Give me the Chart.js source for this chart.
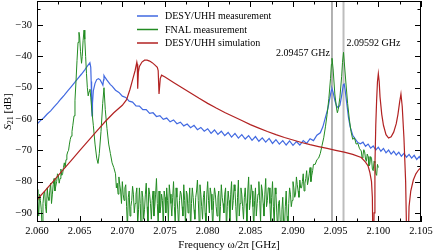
<!DOCTYPE html>
<html>
<head>
<meta charset="utf-8">
<script src="https://cdn.jsdelivr.net/npm/chart.js@4"></script>
<style>
  body { margin: 0; background: #fff; }
</style>
</head>
<body>
<canvas id="graficoS21" width="433" height="251"></canvas>
<script>
// tick positions
const xTicks = [2.060, 2.065, 2.070, 2.075, 2.080, 2.085, 2.090, 2.095, 2.100, 2.105];
const yTicks = [-90, -80, -70, -60, -50, -40, -30];
const markerFreqs = [2.09457, 2.09592];

// DESY/UHH measurement [freq GHz, S21 dB]
const desyMeas = [
  [2.0600,-61.6],[2.0604,-60.5],[2.0608,-59.6],[2.0612,-58.4],[2.0616,-57.4],[2.0620,-56.1],[2.0624,-54.9],
  [2.0628,-53.6],[2.0632,-52.4],[2.0636,-51.0],[2.0640,-49.7],[2.0644,-48.4],[2.0648,-47.0],[2.0652,-45.7],
  [2.0656,-44.3],[2.0659,-43.1],[2.0662,-42.0],[2.0663,-43.5],[2.06635,-48],[2.0664,-55],[2.06645,-59],
  [2.0665,-55],[2.0666,-51],[2.0668,-48.6],[2.0670,-47.4],[2.0672,-47.1],[2.0674,-47.5],[2.0676,-48.5],
  [2.06772,-49.2],[2.0678,-47.5],[2.06785,-46.1],[2.0680,-46.8],[2.0682,-47.6],[2.0684,-48.3],[2.0686,-49.0],
  [2.0688,-49.5],[2.0692,-50.8],[2.0696,-51.5],[2.0700,-52.7],[2.0704,-53.1],[2.0708,-54.3],[2.0712,-54.6],
  [2.0716,-55.8],[2.0720,-55.9],[2.0724,-57.0],[2.0728,-57.0],[2.0732,-58.2],[2.0736,-58.0],[2.0740,-59.2],
  [2.0744,-58.9],[2.0748,-60.1],[2.0752,-59.7],[2.0756,-60.9],[2.0760,-60.3],[2.0764,-61.5],[2.0768,-61.0],
  [2.0772,-62.2],[2.0776,-61.6],[2.0780,-62.8],[2.0784,-62.0],[2.0788,-63.4],[2.0792,-62.7],[2.0796,-63.9],
  [2.0800,-63.1],[2.0804,-64.6],[2.0808,-63.5],[2.0812,-64.9],[2.0816,-63.9],[2.0820,-65.3],[2.0824,-64.3],
  [2.0828,-65.8],[2.0832,-64.6],[2.0836,-66.1],[2.0840,-65.0],[2.0844,-66.4],[2.0848,-65.3],[2.0852,-66.8],
  [2.0856,-65.6],[2.0860,-67.1],[2.0864,-66.0],[2.0868,-67.4],[2.0872,-66.2],[2.0876,-67.8],[2.0880,-66.6],
  [2.0884,-68.0],[2.0888,-66.9],[2.0892,-68.3],[2.0896,-67.0],[2.0900,-68.4],[2.0904,-67.2],[2.0908,-68.3],
  [2.0912,-66.9],[2.0916,-67.8],[2.0920,-66.3],[2.0924,-66.9],[2.0928,-65.2],[2.0932,-64.4],[2.0935,-62.5],
  [2.0938,-59.5],[2.0941,-56.5],[2.0943,-53.5],[2.0945,-50.8],[2.09457,-50.3],[2.0947,-51.5],[2.0949,-54],
  [2.0951,-55.8],[2.0953,-56.4],[2.0955,-55.6],[2.0957,-52.5],[2.0959,-49.0],[2.0960,-48.8],[2.0961,-50.5],
  [2.0963,-55],[2.0965,-59.5],[2.0967,-62.5],[2.0970,-65.2],[2.0973,-66.4],[2.0976,-67.5],[2.0979,-67.9],
  [2.0982,-67.4],[2.0985,-68.7],[2.0988,-68.0],[2.0991,-69.3],[2.0994,-68.6],[2.0997,-69.9],[2.1000,-69.0],
  [2.1003,-70.3],[2.1006,-69.4],[2.1009,-70.8],[2.1012,-69.9],[2.1015,-71.2],[2.1018,-70.3],[2.1021,-71.5],
  [2.1024,-70.6],[2.1027,-71.9],[2.1030,-71.0],[2.1033,-72.2],[2.1036,-71.3],[2.1039,-72.5],[2.1042,-71.6],
  [2.1045,-72.9],[2.1048,-72.0],[2.1050,-72.9]
];

// FNAL measurement
const fnalMeas = [
  [2.0600,-82.5],[2.0601,-86],[2.0602,-91],[2.0603,-84],[2.0604,-86],[2.0605,-89],[2.0606,-95],[2.0607,-87],
  [2.0608,-84],[2.0609,-83],[2.0610,-88],[2.0611,-90],[2.0612,-82],[2.0613,-85],[2.0614,-86],[2.0615,-83],
  [2.0616,-80.5],[2.0617,-87],[2.0618,-84],[2.0619,-81],[2.0620,-79],[2.0621,-83],[2.0622,-81.5],[2.0623,-80],
  [2.0624,-77.5],[2.0625,-78],[2.0626,-80.5],[2.0627,-79],[2.0628,-76],[2.0629,-78],[2.0630,-77.5],[2.0631,-75.5],
  [2.0632,-74],[2.0633,-75.5],[2.0634,-73],[2.0635,-71.5],[2.0636,-70.5],[2.0637,-70],[2.0638,-68],[2.0639,-66.5],
  [2.0640,-65.5],[2.0641,-64],[2.0642,-62],
  [2.06434,-59],[2.06445,-54],[2.06457,-48],[2.06469,-41.3],[2.06481,-35.5],[2.06492,-32.3],[2.0650,-33.8],
  [2.0651,-38.5],[2.06522,-42.2],[2.0653,-40],[2.0654,-35],[2.06551,-31.6],[2.0656,-34.5],[2.0657,-40],
  [2.0658,-45.5],[2.0659,-50],[2.0660,-52.6],[2.0661,-51.2],[2.0662,-50.5],[2.0663,-53],[2.0664,-56.5],
  [2.0666,-62],[2.0668,-68],[2.0670,-72.5],[2.06715,-74.2],[2.0673,-71],[2.0675,-64],[2.0677,-55],
  [2.06785,-50],[2.0680,-57],[2.0682,-63],[2.0684,-68],[2.0686,-71],[2.0688,-74],[2.0690,-75.5],
  [2.0692,-77.5],[2.0693,-82],[2.0694,-80.5],[2.0695,-84],[2.0696,-78.5],[2.0697,-81],[2.0698,-83],[2.0699,-87],
  [2.0700,-80],[2.0701,-84],[2.0702,-86],[2.0703,-82],[2.0704,-81],[2.0705,-88],[2.0706,-95],[2.0707,-85],
  [2.0708,-83],[2.0709,-91],[2.0710,-88],[2.0711,-86],[2.0712,-81.5],[2.0713,-84],[2.0714,-90],[2.0715,-87],
  [2.0716,-84],[2.0717,-82],[2.0718,-94],[2.0719,-89],[2.0720,-82],[2.0721,-87],[2.0722,-96],[2.0723,-83],
  [2.0724,-85],[2.0725,-92],[2.0726,-89],[2.0727,-84],[2.0728,-80.5],[2.0729,-88],[2.0730,-93],[2.0731,-82],
  [2.0732,-84],[2.0733,-87],[2.0734,-92],[2.0735,-86],[2.0736,-83],[2.0737,-91],[2.0738,-88],[2.0739,-84],
  [2.0740,-79],[2.0741,-87],[2.0742,-94],[2.0743,-83],[2.0744,-90],[2.0745,-88],[2.0746,-84],[2.0747,-86],
  [2.0748,-95],[2.0749,-83],[2.0750,-85],[2.0751,-90],[2.0752,-82],[2.0753,-86],[2.0754,-93],[2.0755,-81],
  [2.0756,-84],[2.0757,-87],[2.0758,-91],[2.0759,-85],[2.0760,-80],[2.0761,-88],[2.0762,-94],[2.0763,-82],
  [2.0764,-85],[2.0765,-89],[2.0766,-95],[2.0767,-86],[2.0768,-83],[2.0769,-84],[2.0770,-88],[2.0771,-91],
  [2.0772,-81],[2.0773,-86],[2.0774,-94],[2.0775,-83],[2.0776,-84],[2.0777,-90],[2.0778,-87],[2.0779,-82],
  [2.0780,-96],[2.0781,-87],[2.0782,-82],[2.0783,-85],[2.0784,-89],[2.0785,-92],[2.0786,-85],[2.0787,-83],
  [2.0788,-79.5],[2.0789,-86],[2.0790,-93],[2.0791,-81],[2.0792,-84],[2.0793,-88],[2.0794,-92],[2.0795,-85],
  [2.0796,-83],[2.0797,-90],[2.0798,-94],[2.0799,-84],[2.0800,-80],[2.0801,-86],[2.0802,-90],[2.0803,-82],
  [2.0804,-84],[2.0805,-89],[2.0806,-95],[2.0807,-86],[2.0808,-82],[2.0809,-84],[2.0810,-88],[2.0811,-91],
  [2.0812,-85],[2.0813,-83],[2.0814,-94],[2.0815,-88],[2.0816,-81],[2.0817,-85],[2.0818,-87],[2.0819,-90],
  [2.0820,-84],[2.0821,-82],[2.0822,-96],[2.0823,-88],[2.0824,-83],[2.0825,-86],[2.0826,-93],[2.0827,-84],
  [2.0828,-80],[2.0829,-89],[2.0830,-86],[2.0831,-81],[2.0832,-83],[2.0833,-88],[2.0834,-94],[2.0835,-85],
  [2.0836,-79.5],[2.0837,-91],[2.0838,-87],[2.0839,-82],[2.0840,-84],[2.0841,-88],[2.0842,-92],[2.0843,-85],
  [2.0844,-82],[2.0845,-87],[2.0846,-94],[2.0847,-83],[2.0848,-78.5],[2.0849,-89],[2.0850,-86],[2.0851,-81],
  [2.0852,-83],[2.0853,-88],[2.0854,-95],[2.0855,-86],[2.0856,-82],[2.0857,-91],[2.0858,-87],[2.0859,-84],
  [2.0860,-80],[2.0861,-86],[2.0862,-93],[2.0863,-81],[2.0864,-83],[2.0865,-87],[2.0866,-91],[2.0867,-84],
  [2.0868,-79],[2.0869,-88],[2.0870,-86],[2.0871,-82],[2.0872,-82],[2.0873,-87],[2.0874,-94],[2.0875,-85],
  [2.0876,-80],[2.0877,-88],[2.0878,-94],[2.0879,-82],[2.0880,-84],[2.0881,-90],[2.0882,-96],[2.0883,-87],
  [2.0884,-86],[2.0885,-92],[2.0886,-97],[2.0887,-89],[2.0888,-85],[2.0889,-93],[2.0890,-95],[2.0891,-88],
  [2.0892,-83],[2.0893,-91],[2.0894,-96],[2.0895,-87],[2.0896,-82],[2.0897,-84],[2.0898,-88],[2.0899,-86],
  [2.0900,-80],[2.0901,-82],[2.0902,-85],[2.0903,-84],[2.0904,-78.5],[2.0905,-81],[2.0906,-83],[2.0907,-85],
  [2.0908,-79.5],[2.0909,-82],[2.0910,-82],[2.0911,-80],[2.0912,-77.5],[2.0913,-83],[2.0914,-80.5],[2.0915,-79],
  [2.0916,-76.5],[2.0917,-81],[2.0918,-79.5],[2.0919,-77.5],[2.0920,-75.5],[2.0921,-80],[2.0922,-78],[2.0923,-76.5],
  [2.0924,-74.5],[2.0926,-74.5],
  [2.0928,-73],[2.0930,-72.5],[2.0932,-71],[2.0934,-68.5],[2.0936,-66],[2.0938,-62.5],[2.0940,-58.5],
  [2.0942,-53.5],[2.0944,-47],[2.0945,-42.5],[2.09457,-40.6],[2.0947,-44],[2.0949,-52],[2.0951,-56.5],
  [2.0952,-58],[2.0953,-57],[2.0955,-53],[2.0957,-46.5],[2.0958,-42],[2.09592,-38.7],[2.0960,-41.5],
  [2.0962,-48.5],[2.0964,-55],[2.0966,-60],[2.0968,-64],[2.0970,-66.5],[2.0972,-66],[2.0974,-68],
  [2.0976,-67.8],[2.0978,-69.5],[2.0980,-70.2],[2.0981,-72.5],[2.0982,-71.5],[2.0983,-69.8],[2.0984,-70.5],
  [2.0985,-72.8],[2.0986,-73.5],[2.0987,-71.2],[2.0988,-72],[2.0989,-75],[2.0990,-74.5],[2.0991,-72],
  [2.0992,-72.5],[2.0993,-76],[2.0994,-76.5],[2.0995,-73.5],[2.0996,-74],[2.0997,-77.5],[2.0998,-78],
  [2.0999,-74.5],[2.1000,-75.5]
];

// DESY/UHH simulation
const desySim = [
  [2.0600,-85.8],[2.0610,-82.7],[2.0620,-79.6],[2.0630,-76.4],[2.0640,-73.3],[2.0650,-70.1],[2.0660,-67.0],
  [2.0670,-63.9],[2.0680,-60.8],[2.0690,-58.0],[2.0700,-55.6],[2.0705,-53.8],[2.0709,-50.5],[2.0712,-47.5],
  [2.0715,-44.5],[2.0717,-41.8],[2.07175,-42.5],[2.0718,-50.3],[2.07188,-45],[2.0720,-43.2],[2.0723,-41.8],
  [2.0726,-41.2],[2.0729,-41.2],[2.0732,-41.5],[2.0735,-42.0],[2.0738,-42.7],[2.0741,-43.5],[2.0742,-44.5],
  [2.0743,-52],[2.07445,-47],[2.0746,-46.0],[2.0750,-46.6],[2.0760,-48.3],[2.0770,-50.0],[2.0780,-51.7],
  [2.0790,-53.4],[2.0800,-55.0],[2.0810,-56.5],[2.0820,-57.9],[2.0830,-59.2],[2.0840,-60.5],[2.0850,-61.8],
  [2.0860,-62.9],[2.0870,-64.0],[2.0880,-65.0],[2.0890,-65.9],[2.0900,-66.7],[2.0910,-67.5],[2.0920,-68.2],
  [2.0930,-68.8],[2.0940,-69.4],[2.0950,-70.0],[2.0960,-70.6],[2.0970,-71.3],[2.0980,-72.3],[2.0985,-73.8],
  [2.0988,-75],[2.0990,-77],[2.0992,-80],[2.0993,-85],[2.0994,-110],[2.0995,-90],[2.0996,-75],[2.0997,-62],
  [2.0998,-54],[2.0999,-48],[2.1000,-45.5],[2.1001,-48],[2.1002,-53],[2.1004,-58.5],[2.1006,-62],
  [2.1009,-65],[2.1012,-66.1],[2.1015,-65.7],[2.1018,-64.2],[2.1021,-61.5],[2.1023,-58.5],[2.1025,-54.5],
  [2.10265,-52],[2.1028,-56],[2.1030,-66],[2.1032,-80],[2.1034,-110],[2.1036,-88],[2.1038,-83],
  [2.1041,-79.5],[2.1044,-77.5],[2.1047,-76.3],[2.1050,-75.5]
];

const serif = '"Liberation Serif", "DejaVu Serif", serif';
Chart.defaults.font.family = serif;
Chart.defaults.color = '#000';

const toXY = pts => pts.map(p => ({x: p[0], y: p[1]}));
const vline = f => [{x: f, y: -120}, {x: f, y: 0}];

const frameTicks = {
  id: 'frameTicks',
  afterDatasetsDraw(chart) {
    const {ctx, chartArea: a, scales: {x, y}} = chart;
    ctx.save();
    ctx.strokeStyle = '#000';
    ctx.lineWidth = 1;
    ctx.beginPath();
    const tick = (px, len) => {
      const c = Math.round(px) + 0.5;
      ctx.moveTo(c, a.bottom); ctx.lineTo(c, a.bottom - len);
      ctx.moveTo(c, a.top); ctx.lineTo(c, a.top + len);
    };
    const ytick = (py, len) => {
      const c = Math.round(py) + 0.5;
      ctx.moveTo(a.left, c); ctx.lineTo(a.left + len, c);
      ctx.moveTo(a.right, c); ctx.lineTo(a.right - len, c);
    };
    xTicks.forEach(v => {
      tick(x.getPixelForValue(v), 6);
      if (v + 0.0025 < x.max) tick(x.getPixelForValue(v + 0.0025), 3.5);
    });
    yTicks.forEach(v => {
      ytick(y.getPixelForValue(v), 6);
      [v - 5, v + 5].forEach(m => {
        if (m > y.min && m < y.max) ytick(y.getPixelForValue(m), 3.5);
      });
    });
    ctx.stroke();
    ctx.strokeRect(a.left + 0.5, a.top + 0.5, a.right - a.left - 1, a.bottom - a.top - 1);

    // marker labels
    ctx.fillStyle = '#000';
    ctx.font = '10px ' + serif;
    ctx.textBaseline = 'middle';
    ctx.textAlign = 'right';
    ctx.fillText(markerFreqs[0].toFixed(5) + ' GHz', x.getPixelForValue(markerFreqs[0]) - 2, 53);
    ctx.textAlign = 'left';
    ctx.fillText(markerFreqs[1].toFixed(5) + ' GHz', x.getPixelForValue(markerFreqs[1]) + 3, 43);

    // legend
    let row = 0;
    chart.data.datasets.forEach(d => {
      if (!d.label) return;
      const yy = 16 + row * 13.5;
      ctx.strokeStyle = d.borderColor;
      ctx.lineWidth = 1.5;
      ctx.beginPath();
      ctx.moveTo(137, yy); ctx.lineTo(158, yy);
      ctx.stroke();
      ctx.fillStyle = '#000';
      ctx.fillText(d.label, 165, yy + 0.5);
      row++;
    });

    // y axis title S21 [dB]
    ctx.translate(8, (a.top + a.bottom) / 2);
    ctx.rotate(-Math.PI / 2);
    ctx.textAlign = 'left';
    const f1 = 'italic 11px ' + serif, f2 = '8px ' + serif, f3 = '11px ' + serif;
    ctx.font = f1; const w1 = ctx.measureText('S').width;
    ctx.font = f2; const w2 = ctx.measureText('21').width;
    ctx.font = f3; const w3 = ctx.measureText(' [dB]').width;
    let sx = -(w1 + w2 + w3) / 2;
    ctx.font = f1; ctx.fillText('S', sx, 0); sx += w1;
    ctx.font = f2; ctx.fillText('21', sx, 3); sx += w2;
    ctx.font = f3; ctx.fillText(' [dB]', sx, 0);
    ctx.restore();
  }
};

new Chart(document.getElementById('graficoS21'), {
  type: 'line',
  data: {
    datasets: [
      {label: 'DESY/UHH measurement', data: toXY(desyMeas), borderColor: '#4169e1', borderWidth: 1.2, order: 3},
      {label: 'FNAL measurement', data: toXY(fnalMeas), borderColor: '#228b22', borderWidth: 1, order: 2},
      {label: 'DESY/UHH simulation', data: toXY(desySim), borderColor: '#b22222', borderWidth: 1.2, order: 1},
      {label: '', data: vline(markerFreqs[0]), borderColor: '#666666', borderWidth: 1, order: 5},
      {label: '', data: vline(markerFreqs[1]), borderColor: '#bdbdbd', borderWidth: 2, order: 4}
    ]
  },
  options: {
    responsive: false,
    animation: false,
    events: [],
    layout: {padding: {top: 1, right: 12, left: 0, bottom: 0}},
    elements: {point: {radius: 0}, line: {tension: 0}},
    plugins: {legend: {display: false}, tooltip: {enabled: false}},
    scales: {
      x: {
        type: 'linear',
        min: 2.060,
        max: 2.105,
        afterBuildTicks: s => { s.ticks = xTicks.map(v => ({value: v})); },
        afterFit: s => { s.height = 29; s.paddingLeft = 0; s.paddingRight = 0; },
        grid: {display: false, drawTicks: false, tickLength: 0},
        border: {display: false},
        ticks: {padding: 3, maxRotation: 0, autoSkip: false, font: {size: 10.5},
                callback: v => v.toFixed(3)},
        title: {display: true, text: 'Frequency ω/2π [GHz]', font: {size: 11}, padding: {top: 0, bottom: -1}}
      },
      y: {
        min: -92.9,
        max: -22.3,
        afterBuildTicks: s => { s.ticks = yTicks.map(v => ({value: v})); },
        afterFit: s => { s.width = 37; s.paddingTop = 0; s.paddingBottom = 0; },
        grid: {display: false, drawTicks: false, tickLength: 0},
        border: {display: false},
        ticks: {padding: 5, font: {size: 10.5},
                callback: v => '\u2212' + Math.abs(v)}
      }
    }
  },
  plugins: [frameTicks]
});
</script>
</body>
</html>
